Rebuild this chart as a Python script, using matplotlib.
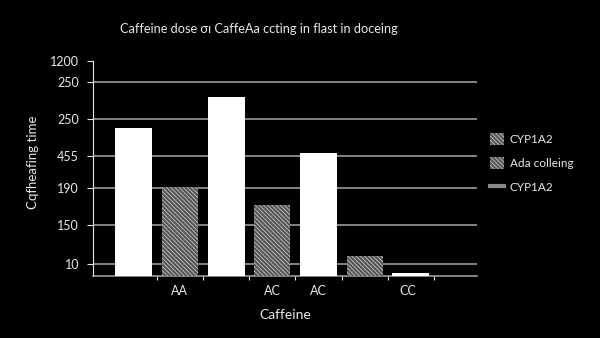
import matplotlib
matplotlib.use("Agg")
import matplotlib.pyplot as plt
from matplotlib.patches import Patch
from matplotlib.lines import Line2D

plt.rcParams["font.family"] = ["Lato", "DejaVu Sans"]
plt.rcParams["hatch.linewidth"] = 0.6

# Bar heights (axis units) for the two alternating series
white_values = [148, 178.4, 122.7, 2.4]
hatched_values = [88.4, 71, 19.4]

# Genotype labels shown under selected bars
genotype_labels = ["AA", "AC", "AC", "CC"]

# Y-axis tick values and their printed labels
ytick_values = [11.7, 50.7, 87.7, 119.7, 156.7, 193.7, 214.7]
ytick_labels = ["10", "150", "190", "455", "250", "250", "1200"]

legend_labels = ["CYP1A2", "Ada colleing", "CYP1A2"]

title = "Caffeine dose \u03c3\u0131 CaffeAa ccting in flast in doceing"
xlabel = "Caffeine"
ylabel = "Cqfheafing time"

fg = "#e8e8e8"
grid_c = "#a8a8a8"
hatch_face = "#555555"
hatch_line = "#c4c4c4"
hatch_pat = "\\" * 8

fig = plt.figure(figsize=(6.0, 3.38), dpi=100, facecolor="black")
ax = fig.add_axes([93 / 600, 1 - 275.7 / 338, (477 - 93) / 600, 214.7 / 338])
ax.set_facecolor("black")

white_pos = [0, 2, 4, 6]
hatched_pos = [1, 3, 5]
ax.bar(white_pos, white_values, width=0.8, color="white", zorder=3)
ax.bar(hatched_pos, hatched_values, width=0.78, facecolor=hatch_face,
       edgecolor=hatch_line, linewidth=0, hatch=hatch_pat, zorder=3)

ax.set_xlim(-0.881, 7.43)
ax.set_ylim(0, 214.7)

ax.set_yticks(ytick_values)
ax.set_yticklabels(ytick_labels)
ax.yaxis.grid(True, color=grid_c, linewidth=1.1, zorder=1)
ax.get_ygridlines()[-1].set_visible(False)

ax.set_xticks([i + 0.5 for i in range(7)])
ax.set_xticklabels([])
ax.set_xticks([1, 3, 4, 5.94], minor=True)
ax.set_xticklabels(genotype_labels, minor=True)
ax.tick_params(axis="x", which="minor", length=0, pad=7)
ax.tick_params(axis="x", which="major", length=3, color=grid_c)
ax.tick_params(axis="y", length=4, color=fg, pad=6)
ax.tick_params(colors=fg, labelsize=9, which="both")

for side in ("top", "right"):
    ax.spines[side].set_visible(False)
ax.spines["left"].set_color(fg)
ax.spines["bottom"].set_color(grid_c)
ax.spines["bottom"].set_linewidth(1.1)
ax.set_axisbelow(True)

fig.text(259 / 600, 1 - 29 / 338, title, color=fg, fontsize=9.2,
         ha="center", va="center")
ax.set_xlabel(xlabel, color=fg, fontsize=10, labelpad=8)
fig.text(33 / 600, 1 - 162 / 338, ylabel, color=fg, fontsize=9.5,
         rotation=90, ha="center", va="center")

handles = [
    Patch(facecolor=hatch_face, edgecolor=hatch_line, linewidth=0, hatch=hatch_pat),
    Patch(facecolor=hatch_face, edgecolor=hatch_line, linewidth=0, hatch=hatch_pat),
    Line2D([0], [0], color="#8a8a8a", linewidth=3),
]
leg = fig.legend(handles, legend_labels, loc="upper left",
                 bbox_to_anchor=(479 / 600, 1 - 122 / 338), frameon=False,
                 fontsize=8.5, labelcolor=fg, handlelength=1.2,
                 handleheight=1.25, handletextpad=0.5, labelspacing=1.0)

fig.savefig("out.png", dpi=100, facecolor="black")
